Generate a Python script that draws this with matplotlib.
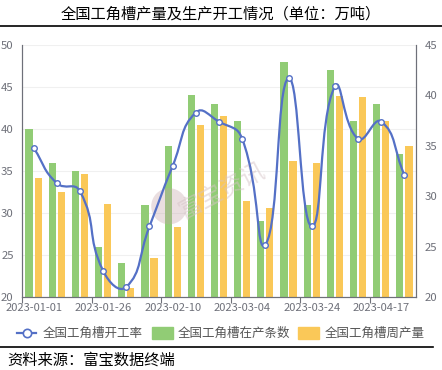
import numpy as np
import matplotlib.pyplot as plt
from matplotlib.path import Path
from matplotlib.patches import PathPatch, Ellipse

plt.rcParams['font.family'] = ['Noto Sans CJK SC', 'DejaVu Sans']

# data
dates = ['2023-01-01', '2023-01-06', '2023-01-13', '2023-01-26', '2023-01-31',
         '2023-02-03', '2023-02-10', '2023-02-17', '2023-02-24', '2023-03-04',
         '2023-03-10', '2023-03-17', '2023-03-24', '2023-03-31', '2023-04-07',
         '2023-04-17', '2023-04-21']
lines_running = [40, 36, 35, 26, 24, 31, 38, 44, 43, 41, 29, 48, 31, 47, 41, 43, 37]
weekly_output = [34.2, 32.5, 34.6, 31.1, 21.1, 24.6, 28.3, 40.5, 41.6, 31.4,
                 30.6, 36.2, 36.0, 43.9, 43.8, 41.0, 38.0]
operating_rate = [34.8, 31.3, 30.5, 22.6, 21.0, 27.0, 33.0, 38.3, 37.4, 35.7,
                  25.2, 41.7, 27.0, 40.9, 35.7, 37.4, 32.1]

label_names = ['全国工角槽开工率', '全国工角槽在产条数', '全国工角槽周产量']
title = '全国工角槽产量及生产开工情况（单位：万吨）'
source = '资料来源：富宝数据终端'

BLUE = '#5470c6'
GREEN = '#91cc75'
YELLOW = '#fac858'
GRAY = '#6e7079'


def smooth_path(xs, ys, sx, sy, smooth=0.5):
    """echarts-like smooth line through the points (bezier control points)."""
    pts = np.column_stack([xs, ys]).astype(float)
    n = len(pts)
    scale = np.array([sx, sy])
    verts = [pts[0]]
    codes = [Path.MOVETO]
    cps = []
    for i in range(n):
        prev = pts[max(i - 1, 0)]
        nxt = pts[min(i + 1, n - 1)]
        v = (nxt - prev) * smooth
        d0 = np.hypot(*((pts[i] - prev) * scale))
        d1 = np.hypot(*((nxt - pts[i]) * scale))
        tot = d0 + d1 if d0 + d1 > 0 else 1
        cps.append((pts[i] - v * d0 / tot, pts[i] + v * d1 / tot))
    for i in range(n - 1):
        verts += [cps[i][1], cps[i + 1][0], pts[i + 1]]
        codes += [Path.CURVE4] * 3
    return Path(verts, codes)


fig = plt.figure(figsize=(4.42, 3.70), dpi=100)
ax = fig.add_axes([22 / 442, 73 / 370, 394 / 442, 252 / 370])
ax2 = ax.twinx()

x = np.arange(len(dates))
w = 0.31
ax.bar(x - 0.195, lines_running, width=w, color=GREEN, zorder=2)
ax.bar(x + 0.195, weekly_output, width=w, color=YELLOW, zorder=2)

ax.set_xlim(-0.5, len(dates) - 0.5)
ax.set_ylim(20, 50)
ax.set_yticks(range(20, 51, 5))
ax2.set_ylim(20, 45)
ax2.set_yticks(range(20, 46, 5))

# watermark
ax.add_patch(Ellipse((5.85, 30.8), 1.55, 4.3, color='#c4a3a8', alpha=0.35,
                     zorder=3, lw=0))
ax.text(8.1, 32.6, '富宝资讯', fontsize=17, color='#d6c3c6', alpha=0.5,
        rotation=28, ha='center', va='center', zorder=3)

ax.grid(axis='y', color='#f0f0f0', lw=0.8, zorder=0)
ax.set_xticks(np.arange(-0.5, len(dates), 3), minor=False)
ax.set_xticklabels([])
ax.set_xticks(x[::3], minor=True)
ax.set_xticklabels([dates[i] for i in x[::3]], minor=True)
ax.tick_params(axis='x', which='major', length=4, color=GRAY, width=0.8)
ax.tick_params(axis='x', which='minor', length=0, pad=4, labelsize=8,
               labelcolor=GRAY)
ax.tick_params(axis='y', length=0, pad=6, labelsize=8.2, labelcolor=GRAY)
ax2.tick_params(axis='y', length=0, pad=6, labelsize=8.2, labelcolor=GRAY)

for a in (ax, ax2):
    a.spines['top'].set_visible(False)
    for side in ('left', 'right', 'bottom'):
        a.spines[side].set_color(GRAY)
        a.spines[side].set_linewidth(0.8)

path = smooth_path(x, operating_rate, 23.2, 10.05)
ax2.add_patch(PathPatch(path, fill=False, ec=BLUE, lw=1.6, zorder=4))
ax2.plot(x, operating_rate, ls='none', marker='o', ms=4, mfc='white',
         mec=BLUE, mew=1.0, zorder=5)
ax2.set_zorder(ax.get_zorder() + 1)
ax2.patch.set_visible(False)

# title and source, with separator lines
fig.text(0.5, 1 - 14 / 370, title, ha='center', va='center', fontsize=11,
         color='black')
fig.add_artist(plt.Line2D([0, 1], [1 - 26 / 370] * 2, color='black', lw=1.2))
fig.add_artist(plt.Line2D([0, 433 / 442], [1 - 347 / 370] * 2, color='black',
                          lw=1.2))
fig.text(7 / 442, 1 - 360 / 370, source, ha='left', va='center', fontsize=11,
         color='black')

# legend
ly = 1 - 333 / 370
fig.add_artist(plt.Line2D([17 / 442, 36 / 442], [ly, ly], color=BLUE, lw=1.6))
fig.add_artist(plt.Line2D([26.5 / 442], [ly], marker='o', ms=6, mfc='white',
                          mec=BLUE, mew=1.2, color=BLUE))
fig.text(43 / 442, ly, label_names[0], ha='left', va='center', fontsize=9,
         color='#555555')
fig.add_artist(plt.Rectangle((152 / 442, ly - 6 / 370), 21 / 442, 12 / 370,
                             color=GREEN, transform=fig.transFigure))
fig.text(178 / 442, ly, label_names[1], ha='left', va='center', fontsize=9,
         color='#555555')
fig.add_artist(plt.Rectangle((298 / 442, ly - 6 / 370), 21 / 442, 12 / 370,
                             color=YELLOW, transform=fig.transFigure))
fig.text(325 / 442, ly, label_names[2], ha='left', va='center', fontsize=9,
         color='#555555')

fig.savefig('out.png', dpi=100)
